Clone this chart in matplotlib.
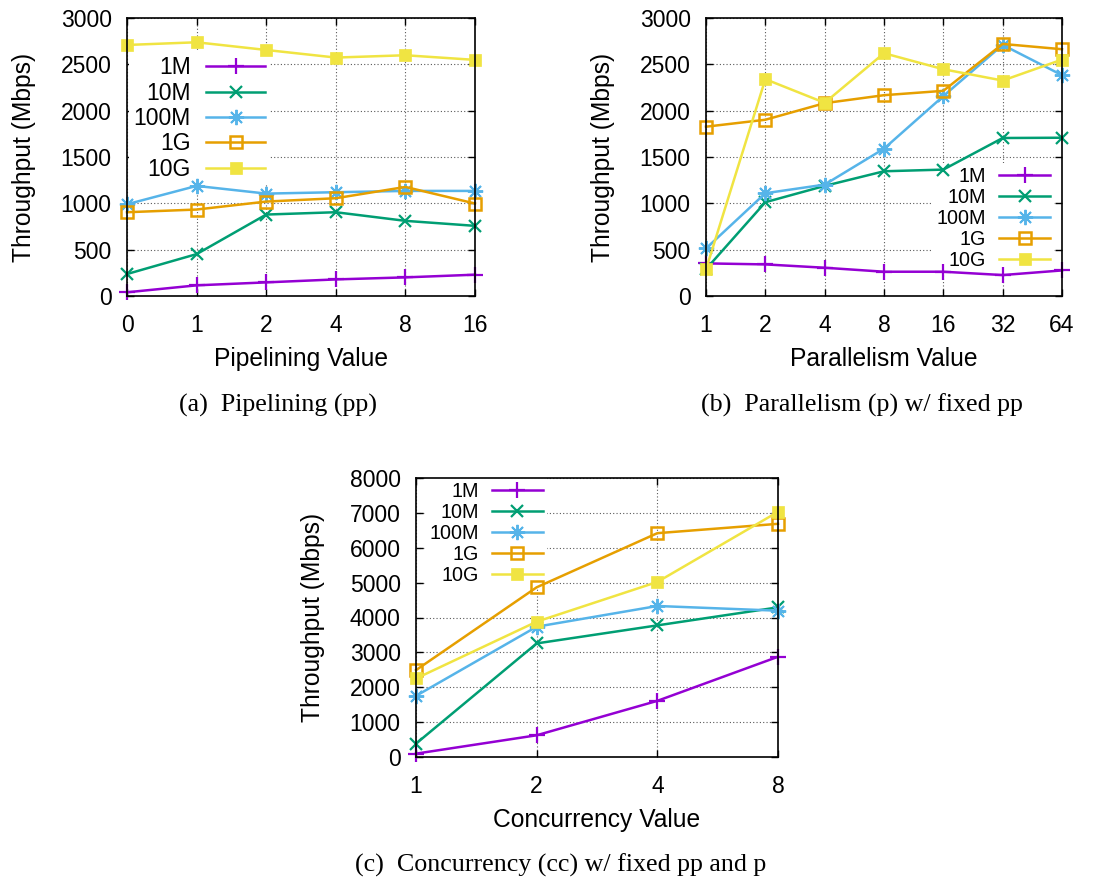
import matplotlib
matplotlib.use("Agg")
import matplotlib.pyplot as plt

plt.rcParams['font.family'] = ['Liberation Sans', 'DejaVu Sans']

sizes = ['1M', '10M', '100M', '1G', '10G']
colors = ['#9400d3', '#009e73', '#56b4e9', '#e69f00', '#f0e442']

# (a) pipelining
pp_ticks = ['0', '1', '2', '4', '8', '16']
pp_1m = [40, 115, 147, 179, 201, 230]
pp_10m = [237, 452, 879, 904, 811, 757]
pp_100m = [990, 1188, 1105, 1120, 1134, 1134]
pp_1g = [904, 933, 1019, 1055, 1177, 998]
pp_10g = [2709, 2738, 2655, 2573, 2598, 2548]

# (b) parallelism
p_ticks = ['1', '2', '4', '8', '16', '32', '64']
p_1m = [352, 341, 305, 262, 262, 226, 276]
p_10m = [290, 1012, 1188, 1346, 1364, 1705, 1708]
p_100m = [513, 1109, 1202, 1590, 2157, 2710, 2383]
p_1g = [1827, 1902, 2081, 2167, 2214, 2720, 2663]
p_10g = [287, 2340, 2085, 2620, 2447, 2325, 2551]

# (c) concurrency
cc_ticks = ['1', '2', '4', '8']
cc_1m = [96, 623, 1610, 2874]
cc_10m = [383, 3257, 3774, 4291]
cc_100m = [1753, 3736, 4330, 4195]
cc_1g = [2491, 4866, 6418, 6686]
cc_10g = [2251, 3880, 5019, 7030]

W, H = 1108, 882
FS = 16.5
LFS = 17.7

def style(i):
    if i == 0:
        return dict(marker='+', ms=11, mew=1.6, mfc='none')
    if i == 1:
        return dict(marker='x', ms=8, mew=1.6, mfc='none')
    if i == 2:
        return dict(marker=(8, 2, 0), ms=11, mew=1.4, mfc='none')
    if i == 3:
        return dict(marker='s', ms=8, mew=1.8, mfc='none')
    return dict(marker='s', ms=8, mew=0.5)

def panel(rect, ticks, series, ymax, ystep, xlabel, leg_loc, leg_anchor,
          leg_fs, spacing):
    l, t, r, b = rect
    ax = fig.add_axes([l / W, 1 - b / H, (r - l) / W, (b - t) / H])
    x = list(range(len(ticks)))
    for i, ys in enumerate(series):
        ax.plot(x, ys, color=colors[i], lw=1.8, label=sizes[i], clip_on=False,
                mec=colors[i], zorder=3, **style(i))
    ax.set_xlim(0, len(ticks) - 1)
    ax.set_ylim(0, ymax)
    ax.set_xticks(x)
    ax.set_xticklabels(ticks)
    ax.set_yticks(range(0, ymax + 1, ystep))
    ax.tick_params(direction='in', length=5, width=1, top=True, right=True,
                   labelsize=FS)
    ax.tick_params(axis='y', pad=11)
    ax.tick_params(axis='x', pad=13)
    ax.grid(True, color='0.35', ls=(0, (1, 2)), lw=0.8)
    for s in ax.spines.values():
        s.set_linewidth(1.2)
        s.set_zorder(7)
    ax.set_xlabel(xlabel, fontsize=LFS, labelpad=7)
    ax.set_ylabel('Throughput (Mbps)', fontsize=LFS, labelpad=18)
    # key: label on the left, sample on the right, rows right-aligned;
    # white box covers the grid but stays under the data lines
    leg = ax.legend(loc=leg_loc, bbox_to_anchor=leg_anchor, fontsize=leg_fs,
                    markerfirst=False, handlelength=2.6, handletextpad=0.65,
                    labelspacing=spacing, borderpad=0.2, borderaxespad=0,
                    frameon=True, fancybox=False, facecolor='white',
                    edgecolor='none', framealpha=1)
    leg.set_zorder(2.5)
    return ax

fig = plt.figure(figsize=(W / 100, H / 100), dpi=100)

panel((127, 18, 475, 296), pp_ticks, [pp_1m, pp_10m, pp_100m, pp_1g, pp_10g],
      3000, 500, 'Pipelining Value', 'upper right', (0.411, 0.878), FS, 0.1)
panel((706, 18, 1062, 296), p_ticks, [p_1m, p_10m, p_100m, p_1g, p_10g],
      3000, 500, 'Parallelism Value', 'lower right', (0.978, 0.079), 14.2, 0.1)
panel((416, 478, 778, 757), cc_ticks, [cc_1m, cc_10m, cc_100m, cc_1g, cc_10g],
      8000, 1000, 'Concurrency Value', 'upper right', (0.362, 1.0), 14.2, 0.1)

cap = dict(fontsize=18.7, family=['Liberation Serif', 'DejaVu Serif'],
           ha='center', va='center')
fig.text(278 / W, 1 - 405 / H, '(a)  Pipelining (pp)', **cap)
fig.text(862 / W, 1 - 405 / H, '(b)  Parallelism (p) w/ fixed pp', **cap)
fig.text(561 / W, 1 - 865 / H, '(c)  Concurrency (cc) w/ fixed pp and p', **cap)

fig.savefig('out.png', dpi=100)
